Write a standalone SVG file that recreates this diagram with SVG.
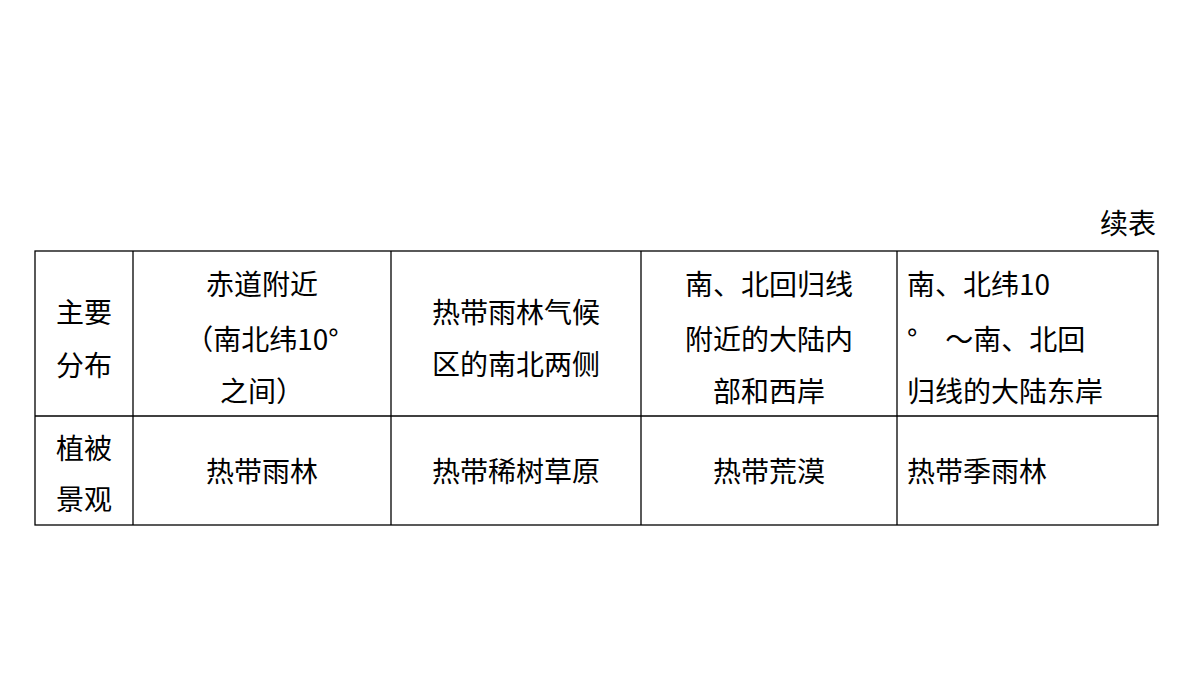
<svg xmlns="http://www.w3.org/2000/svg" width="1200" height="675" viewBox="0 0 1200 675">
<style>
text{font-family:"Noto Sans CJK SC","Noto Sans",sans-serif;font-size:28px;fill:#000}
.c{text-anchor:middle}
line{stroke:#000;stroke-width:1.3}
</style>
<rect width="1200" height="675" fill="#fff"/>
<text x="1156" y="234" text-anchor="end">续表</text>
<g id="grid">
<rect x="35" y="251" width="1123" height="274" fill="none" stroke="#000" stroke-width="1.3"/>
<line x1="35" y1="416" x2="1158" y2="416"/>
<line x1="133" y1="251" x2="133" y2="525"/>
<line x1="391" y1="251" x2="391" y2="525"/>
<line x1="641" y1="251" x2="641" y2="525"/>
<line x1="897" y1="251" x2="897" y2="525"/>
</g>
<g id="row1">
<text class="c" x="84" y="323">主要</text>
<text class="c" x="84" y="376">分布</text>
<text class="c" x="262" y="295">赤道附近</text>
<text class="c" x="262" y="350">（南北纬10°</text>
<text class="c" x="262" y="402">之间）</text>
<text class="c" x="516" y="323">热带雨林气候</text>
<text class="c" x="516" y="375">区的南北两侧</text>
<text class="c" x="769" y="295">南、北回归线</text>
<text class="c" x="769" y="350">附近的大陆内</text>
<text class="c" x="769" y="402">部和西岸</text>
<text x="907" y="295">南、北纬10</text>
<text x="907" y="350" xml:space="preserve">°　～南、北回</text>
<text x="907" y="402">归线的大陆东岸</text>
</g>
<g id="row2">
<text class="c" x="84" y="459">植被</text>
<text class="c" x="84" y="510">景观</text>
<text class="c" x="262" y="482">热带雨林</text>
<text class="c" x="516" y="482">热带稀树草原</text>
<text class="c" x="769" y="482">热带荒漠</text>
<text x="907" y="482">热带季雨林</text>
</g>
</svg>
